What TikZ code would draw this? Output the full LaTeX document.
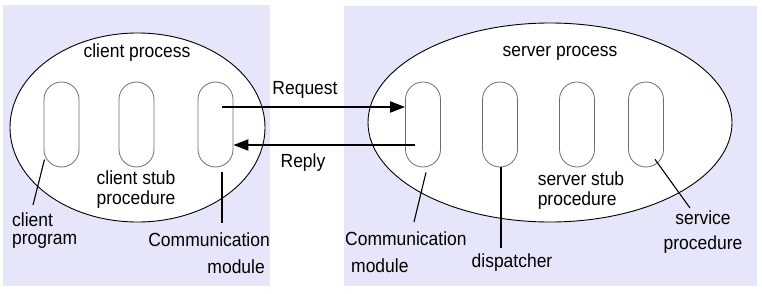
\documentclass[tikz,border=0pt]{standalone}
\usepackage{fontspec}
\setmainfont{Liberation Sans}[FakeStretch=0.92]
\usetikzlibrary{shapes.geometric,arrows.meta}
\definecolor{lav}{RGB}{230,230,250}
\definecolor{capgray}{RGB}{110,110,110}
\begin{document}
\begin{tikzpicture}[x=1pt,y=-1pt,
  lbl/.style={font=\fontsize{19}{20}\selectfont, inner sep=0pt},
  proc/.style={ellipse, draw=black, line width=0.9pt, fill=white, inner sep=0pt},
  capsule/.style={draw=capgray, line width=0.8pt, rounded corners=17.5pt, minimum width=35pt, minimum height=85pt, inner sep=0pt},
  arr/.style={line width=2pt, -{Triangle[length=15pt,width=11pt]}},
  ptr/.style={line width=1.1pt}]
\useasboundingbox (0,0) rectangle (762,294);
\fill[lav] (3,5) rectangle (270,286);
\fill[lav] (344,6) rectangle (757,286);
\node[proc, minimum width=255pt, minimum height=189pt] (lp) at (137.5,127.5) {};
\node[proc, minimum width=364pt, minimum height=199pt] (rp) at (550,122.5) {};
% capsules
\node[capsule] (lc1) at (61.5,124.5) {};
\node[capsule] (lc2) at (136.5,124.5) {};
\node[capsule] (lc3) at (215.5,124.5) {};
\node[capsule] (rc1) at (423,124.5) {};
\node[capsule] (rc2) at (500,124.5) {};
\node[capsule] (rc3) at (577,124.5) {};
\node[capsule] (rc4) at (646,124.5) {};
% labels
\node[lbl] (tcp) at (137,53) {client process};
\node[lbl] (tsp) at (560,53) {server process};
\node[lbl] (treq) at (305,90) {Request};
\node[lbl] (trep) at (303,163) {Reply};
\node[lbl, align=center] (tcs) at (136,190) {client stub\\procedure};
\node[lbl, align=left, anchor=west] (tcprog) at (12,231) {client\\[-2pt]program};
\node[lbl, align=right, anchor=east] (tcm1) at (270,253) {Communication\\[7pt]module\hspace*{5pt}};
\node[lbl, align=left, anchor=west] (tcm2) at (345,252) {Communication\\[7pt]\hspace*{6pt}module};
\node[lbl] (tdisp) at (512,263) {dispatcher};
\node[lbl, align=left] (tss) at (581,191) {server stub\\[0pt]procedure};
\node[lbl, align=center] (tserv) at (703,232) {service\\[5pt]procedure};
% arrows
\draw[arr] ([xshift=6.5pt,yshift=17.5pt]lc3.center) -- ([yshift=17.5pt]rc1.west);
\draw[arr] ([xshift=-8pt,yshift=-20.5pt]rc1.center) -- ([yshift=-20.5pt]lc3.east);
% pointers
\coordinate (e1) at (33,205);
\coordinate (e2) at (222,223);
\coordinate (e3) at (414,222);
\coordinate (e4) at (501,248);
\coordinate (e5) at (690,208);
\draw[ptr] ([xshift=-17pt,yshift=-35pt]lc1.center) -- (e1);
\draw[ptr] ([xshift=6.5pt,yshift=-5pt]lc3.south) -- (e2);
\draw[ptr] ([xshift=3pt,yshift=-5pt]rc1.south) -- (e3);
\draw[ptr] ([xshift=1pt]rc2.south) -- (e4);
\draw[ptr] ([xshift=9pt,yshift=8pt]rc4.south) -- (e5);
\end{tikzpicture}
\end{document}
